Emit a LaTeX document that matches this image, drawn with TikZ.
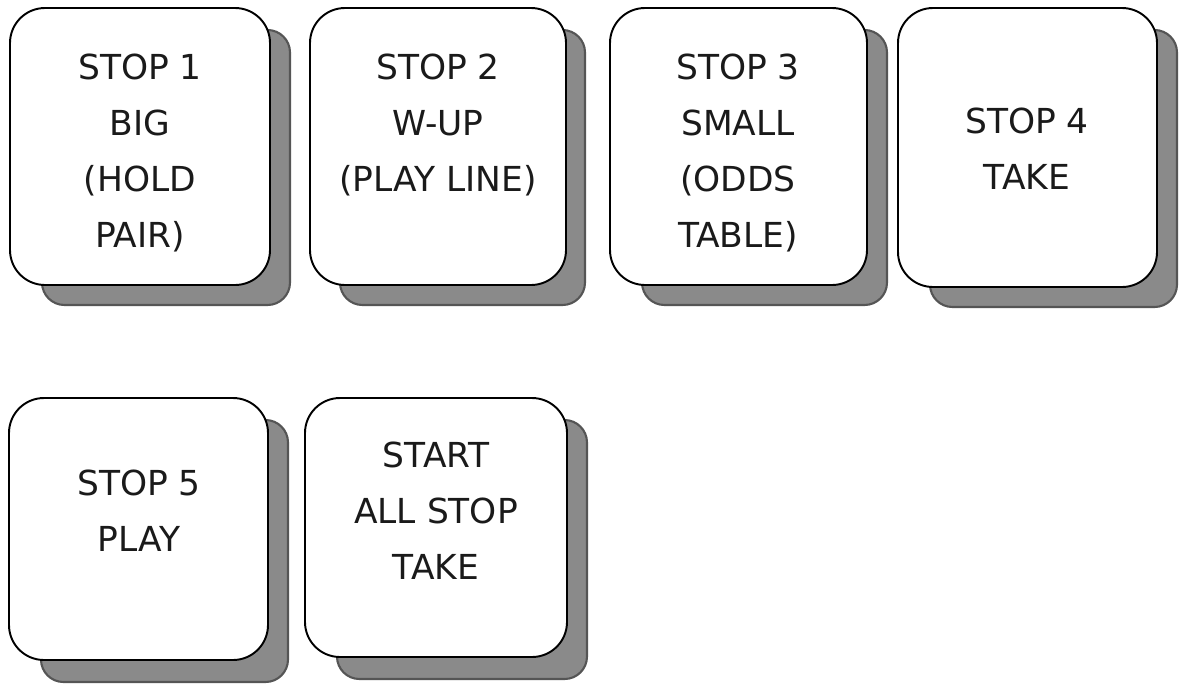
\documentclass[tikz,border=0pt]{standalone}
\usepackage{fontspec}
\setmainfont{DejaVu Sans}
\definecolor{shadegray}{HTML}{8A8A8A}
\definecolor{shadeedge}{HTML}{555555}
\definecolor{keytext}{HTML}{1A1A1A}

\begin{document}
\begin{tikzpicture}[x=0.02cm,y=-0.02cm,
  keyshade/.style={fill=shadegray,draw=shadeedge,line width=1.2pt,rounded corners=0.45cm},
  keyface/.style={fill=white,draw=black,line width=1.1pt,rounded corners=0.7cm},
  keylabel/.style={align=center,inner sep=0pt,text=keytext,font=\fontsize{19.6}{31.8}\selectfont}]
\useasboundingbox (0,0) rectangle (1183,684);
% top row
\fill[white] (0,0) rectangle (1183,684);
\draw[keyshade] (42,30) rectangle (290,305);
\draw[keyface] (10,8) rectangle (270,285);
\node[keylabel] (stopone) at (140,153) {STOP 1\\BIG\\(HOLD\\PAIR)};
\draw[keyshade] (340,30) rectangle (585,305);
\draw[keyface] (310,8) rectangle (566,285);
\node[keylabel] (stoptwo) at (438,125) {STOP 2\\W-UP\\(PLAY LINE)};
\draw[keyshade] (642,30) rectangle (887,305);
\draw[keyface] (610,8) rectangle (867,285);
\node[keylabel] (stopthree) at (738,153) {STOP 3\\SMALL\\(ODDS\\TABLE)};
\draw[keyshade] (930,30) rectangle (1177,307);
\draw[keyface] (898,8) rectangle (1157,287);
\node[keylabel] (stopfour) at (1027,149) {STOP 4\\TAKE};
% bottom row
\draw[keyshade] (41,420) rectangle (288,682);
\draw[keyface] (9,398) rectangle (268,660);
\node[keylabel] (stopfive) at (139,511) {STOP 5\\PLAY};
\draw[keyshade] (337,420) rectangle (587,679);
\draw[keyface] (305,398) rectangle (567,657);
\node[keylabel] (startall) at (436,511) {START\\ALL STOP\\TAKE};
\end{tikzpicture}
\end{document}
